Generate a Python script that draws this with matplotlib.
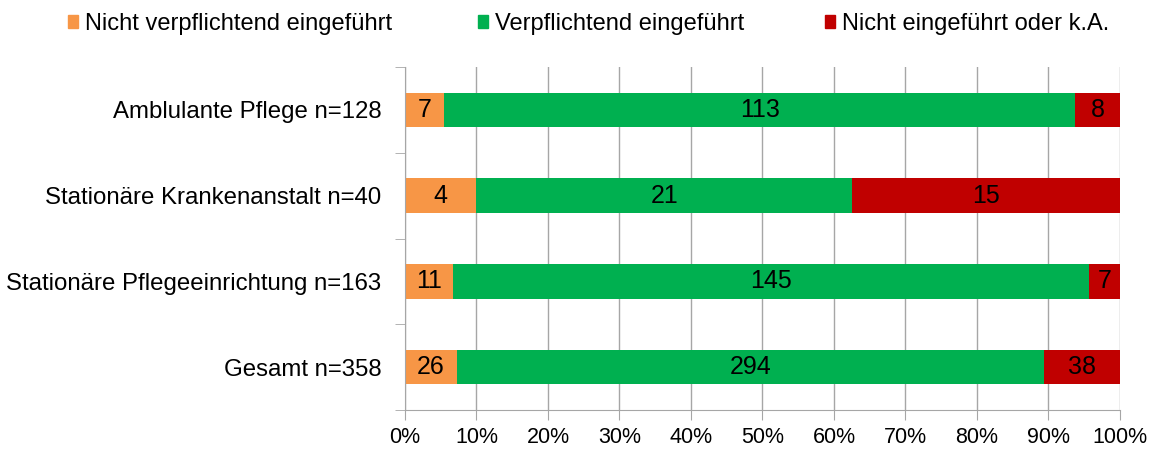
import matplotlib.pyplot as plt
from matplotlib.patches import Patch
import numpy as np

plt.rcParams['font.family'] = ['Liberation Sans', 'DejaVu Sans']

categories = ['Amblulante Pflege n=128', 'Stationäre Krankenanstalt n=40',
              'Stationäre Pflegeeinrichtung n=163', 'Gesamt n=358']
nicht_verpflichtend = [7, 4, 11, 26]
verpflichtend = [113, 21, 145, 294]
nicht_eingefuehrt = [8, 15, 7, 38]

series = [
    ('Nicht verpflichtend eingeführt', nicht_verpflichtend, '#F79646'),
    ('Verpflichtend eingeführt', verpflichtend, '#00B050'),
    ('Nicht eingeführt oder k.A.', nicht_eingefuehrt, '#C00000'),
]

totals = np.array(nicht_verpflichtend) + np.array(verpflichtend) + np.array(nicht_eingefuehrt)
y = np.arange(len(categories))

fig = plt.figure(figsize=(11.55, 4.51), dpi=100)
ax = fig.add_axes([0.3506, 0.0909, 0.6191, 0.7605])

left = np.zeros(len(categories))
for name, vals, color in series:
    share = np.array(vals) / totals
    ax.barh(y, share, left=left, height=0.4, color=color, zorder=2)
    for yi, l, s, v in zip(y, left, share, vals):
        ax.text(l + s / 2, yi, str(v), ha='center', va='center', fontsize=18, zorder=3)
    left += share

ax.set_xlim(0, 1)
ax.set_ylim(len(categories) - 0.5, -0.5)
ticks = np.arange(0, 1.01, 0.1)
ax.set_xticks(ticks)
ax.set_xticklabels([f'{int(round(t * 100))}%' for t in ticks], fontsize=15.5)
ax.set_yticks(y)
ax.set_yticklabels(categories, fontsize=17.3)
ax.set_yticks(np.arange(-0.5, len(categories), 1), minor=True)
ax.tick_params(axis='y', which='major', length=0, pad=17)
ax.tick_params(axis='y', which='minor', length=7, color='#A6A6A6', direction='out')
ax.tick_params(axis='x', length=7, color='#A6A6A6', direction='out', pad=5)
ax.grid(axis='x', color='#A6A6A6', linewidth=1, zorder=0)
for s in ['top', 'right']:
    ax.spines[s].set_visible(False)
for s in ['left', 'bottom']:
    ax.spines[s].set_color('#A6A6A6')

# Excel-style legend: equal column widths
legend_x = [68, 478, 825]
for (name, _, color), lx in zip(series, legend_x):
    fig.legend(handles=[Patch(color=color, label=name)], loc='center left',
               bbox_to_anchor=(lx / 1155, 0.947), frameon=False, fontsize=17,
               handlelength=0.44, handleheight=0.44, handletextpad=0.3,
               borderpad=0, borderaxespad=0)

fig.savefig('out.png', dpi=100)
